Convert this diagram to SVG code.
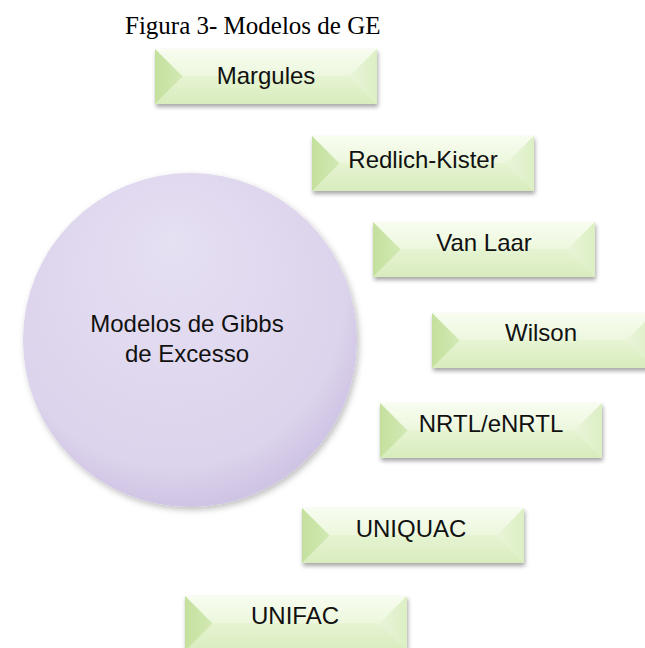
<svg xmlns="http://www.w3.org/2000/svg" xmlns:xlink="http://www.w3.org/1999/xlink" width="645" height="648" viewBox="0 0 645 648">
<style>
.lbl{font-family:"Liberation Sans",Arial,sans-serif;font-size:24px;fill:#111;text-anchor:middle}
.title{font-family:"Liberation Serif","Times New Roman",serif;font-size:25px;fill:#000}
</style>
<defs>
<filter id="sh" x="-10%" y="-20%" width="125%" height="160%">
<feDropShadow dx="1" dy="3" stdDeviation="2" flood-color="#000" flood-opacity="0.35"/>
</filter>
<filter id="csh" x="-10%" y="-10%" width="125%" height="125%">
<feDropShadow dx="2" dy="3" stdDeviation="3" flood-color="#000" flood-opacity="0.25"/>
</filter>
<linearGradient id="gTop" x1="0" y1="0" x2="0" y2="1">
<stop offset="0" stop-color="#f8fdf0"/><stop offset="1" stop-color="#ecf7dd"/>
</linearGradient>
<linearGradient id="gBot" x1="0" y1="0" x2="0" y2="1">
<stop offset="0" stop-color="#e6f4d2"/><stop offset="1" stop-color="#d8ecbd"/>
</linearGradient>
<linearGradient id="gLeft" x1="0" y1="0" x2="1" y2="0">
<stop offset="0" stop-color="#c4e09d"/><stop offset="1" stop-color="#d2e9b4"/>
</linearGradient>
<linearGradient id="gRight" x1="0" y1="0" x2="1" y2="0">
<stop offset="0" stop-color="#e9f5da"/><stop offset="1" stop-color="#dcefc4"/>
</linearGradient>
<radialGradient id="gCirc" cx="0.45" cy="0.4" r="0.6" fx="0.45" fy="0.2">
<stop offset="0" stop-color="#e6e0f3"/><stop offset="0.85" stop-color="#dcd3ec"/><stop offset="1" stop-color="#cfc4e4"/>
</radialGradient>
<g id="box">
<rect x="0" y="0" width="222" height="55" fill="#e3f2cd" filter="url(#sh)"/>
<path d="M0,0 L222,0 L194.5,27.5 L27.5,27.5 Z" fill="url(#gTop)"/>
<path d="M0,55 L222,55 L194.5,27.5 L27.5,27.5 Z" fill="url(#gBot)"/>
<path d="M0,0 L27.5,27.5 L0,55 Z" fill="url(#gLeft)"/>
<path d="M222,0 L194.5,27.5 L222,55 Z" fill="url(#gRight)"/>
</g>
</defs>
<rect width="645" height="648" fill="#fff"/>
<text class="title" x="125" y="34">Figura 3- Modelos de GE</text>
<g id="connectors"/>
<g id="center">
<circle cx="190" cy="340" r="167" fill="url(#gCirc)" filter="url(#csh)"/>
<text class="lbl" x="187" y="332">Modelos de Gibbs</text>
<text class="lbl" x="187" y="362">de Excesso</text>
</g>
<g id="margules"><use xlink:href="#box" x="155" y="49"/><text class="lbl" x="266" y="84">Margules</text></g>
<g id="redlich-kister"><use xlink:href="#box" x="312" y="136"/><text class="lbl" x="423" y="168">Redlich-Kister</text></g>
<g id="van-laar"><use xlink:href="#box" x="373" y="222"/><text class="lbl" x="484" y="251">Van Laar</text></g>
<g id="wilson"><use xlink:href="#box" x="432" y="313"/><text class="lbl" x="541" y="341">Wilson</text></g>
<g id="nrtl"><use xlink:href="#box" x="380" y="403"/><text class="lbl" x="491" y="432">NRTL/eNRTL</text></g>
<g id="uniquac"><use xlink:href="#box" x="302" y="508"/><text class="lbl" x="411" y="537">UNIQUAC</text></g>
<g id="unifac"><use xlink:href="#box" x="185" y="596"/><text class="lbl" x="295" y="624">UNIFAC</text></g>
</svg>
